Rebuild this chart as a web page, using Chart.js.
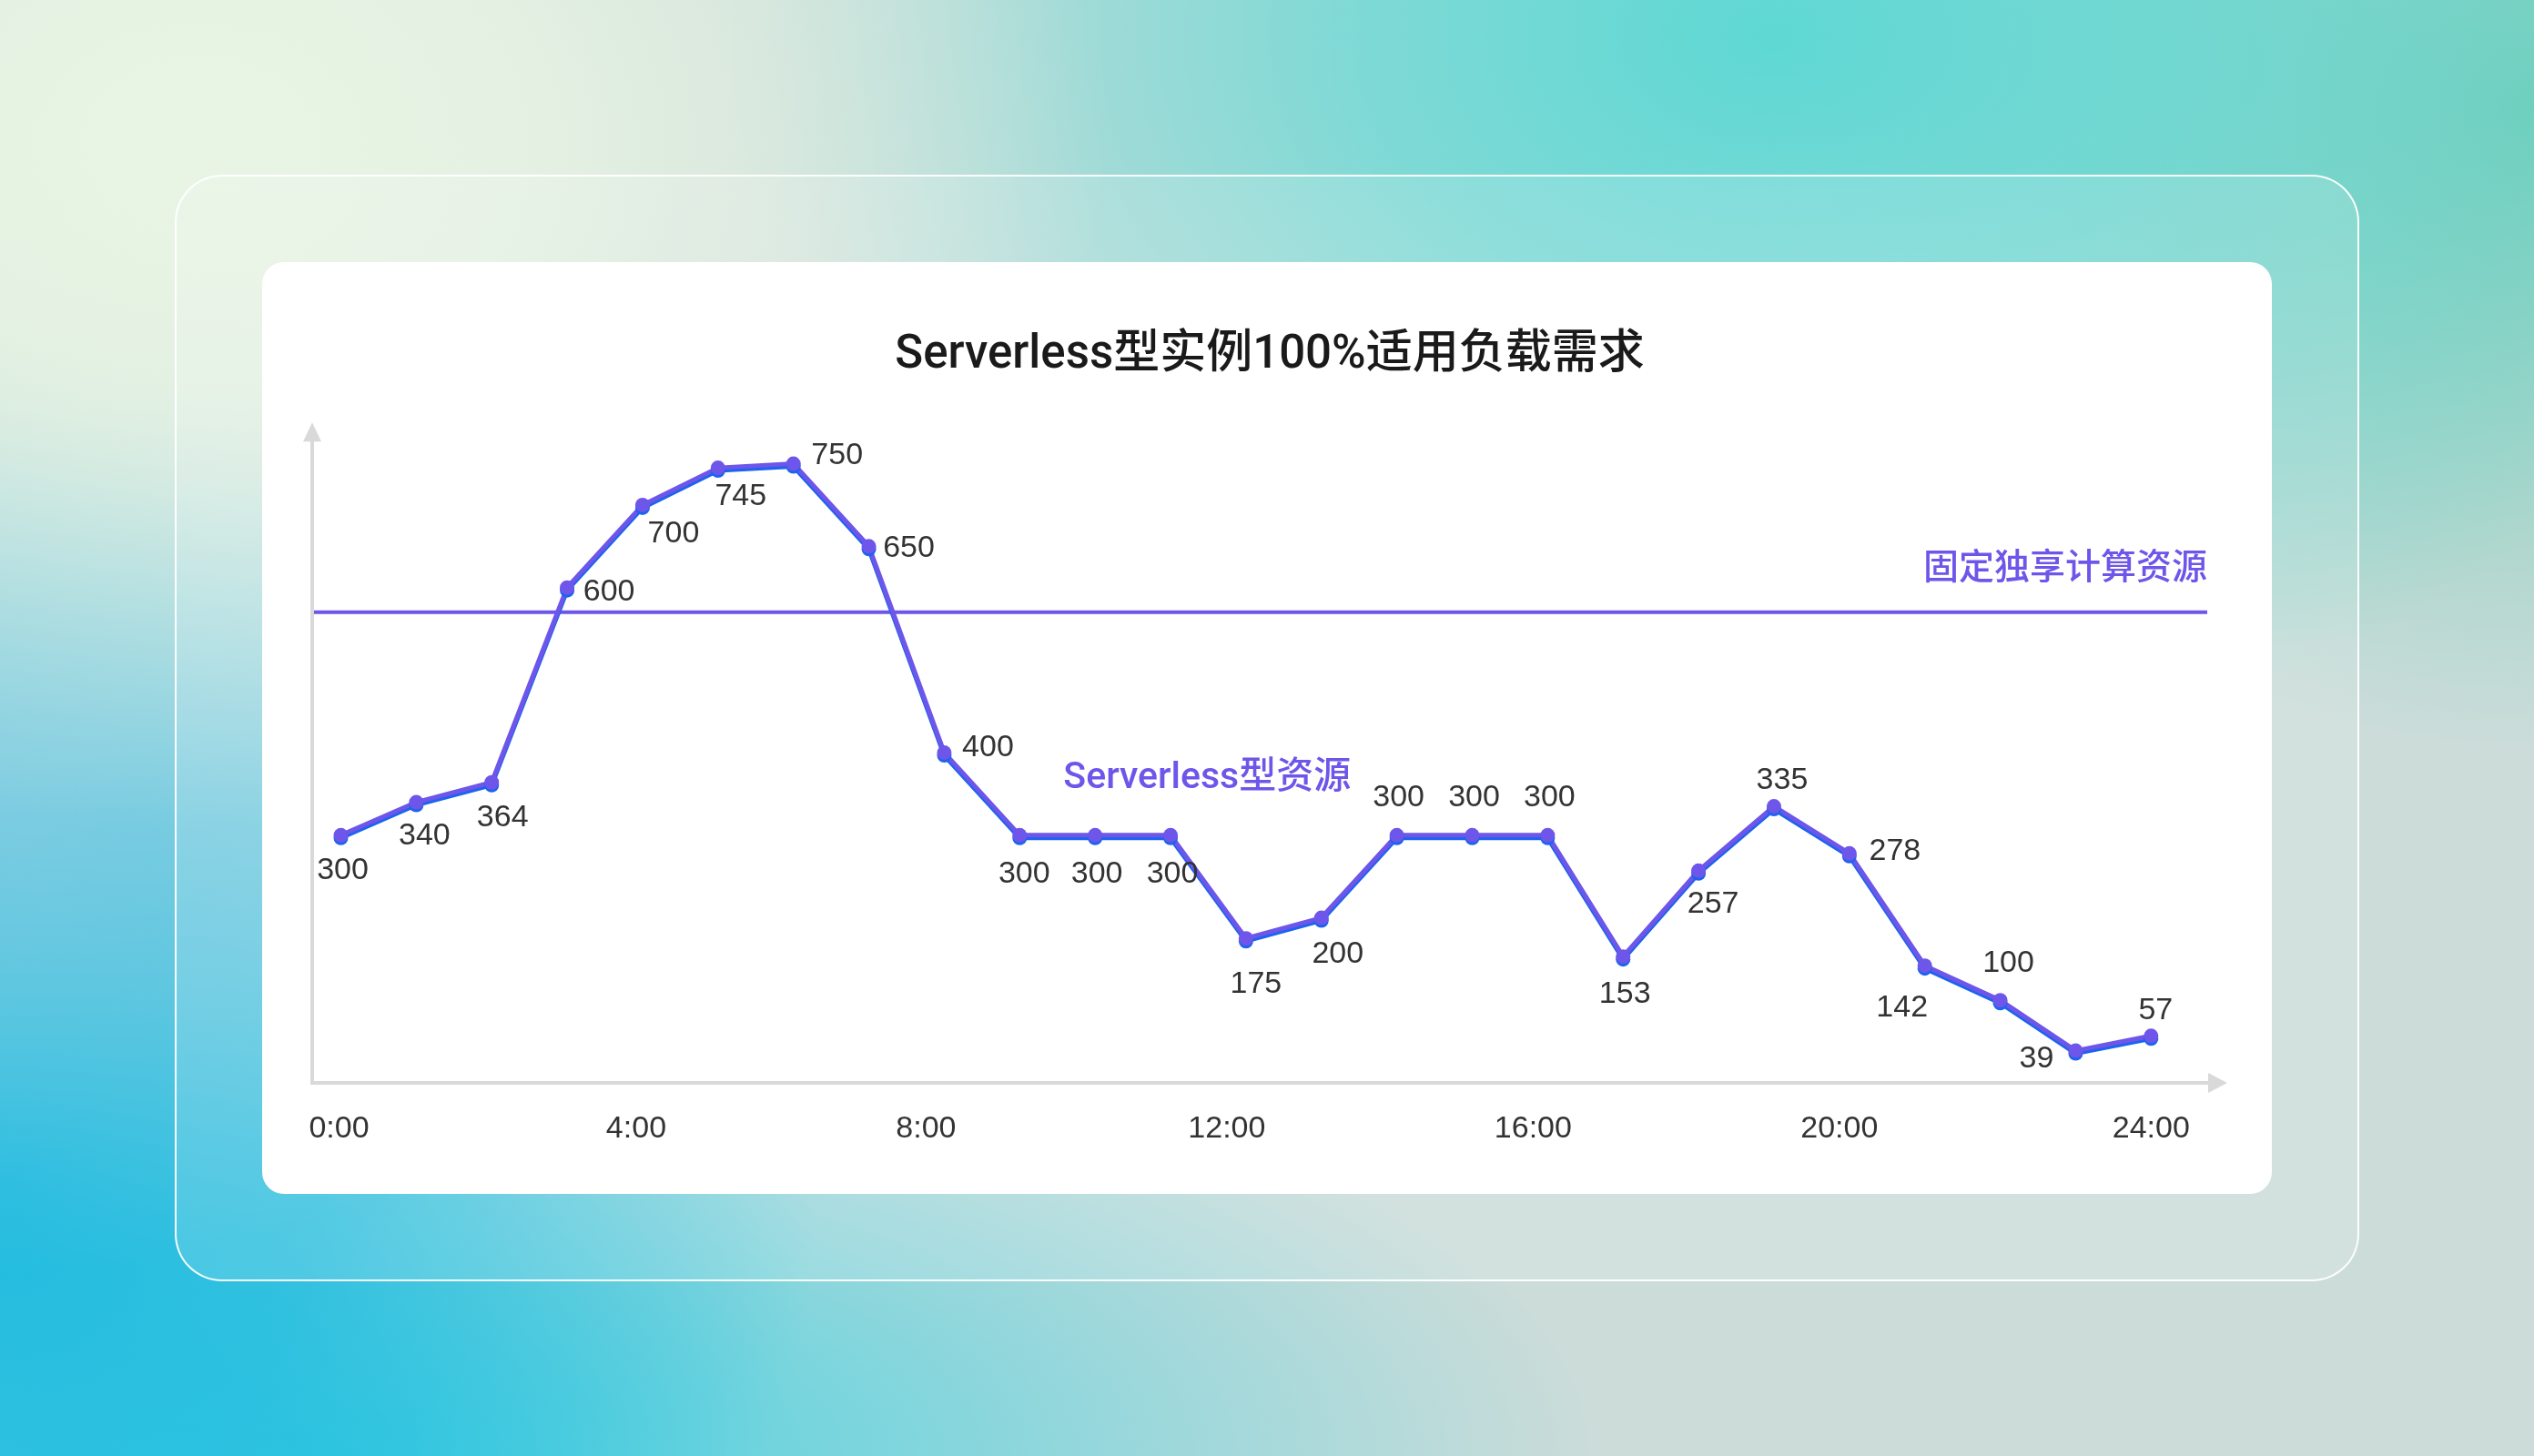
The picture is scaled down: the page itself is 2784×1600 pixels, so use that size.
<!DOCTYPE html>
<html>
<head>
<meta charset="utf-8">
<script src="https://cdn.jsdelivr.net/npm/chart.js@4.4.1/dist/chart.umd.min.js"></script>
<style>
  html, body { margin: 0; padding: 0; }
  body {
    width: 2784px; height: 1600px; overflow: hidden; position: relative;
    background:
      radial-gradient(ellipse 1000px 750px at 220px 160px, rgba(233,245,228,1) 0%, rgba(233,245,228,0.85) 35%, rgba(233,245,228,0) 100%),
      radial-gradient(ellipse 1150px 800px at 1950px 40px, rgba(94,216,212,1) 0%, rgba(94,216,212,0.7) 40%, rgba(94,216,212,0) 100%),
      radial-gradient(ellipse 800px 700px at 2784px 120px, rgba(118,204,182,1) 0%, rgba(118,204,182,0) 100%),
      radial-gradient(ellipse 800px 550px at 0px 850px, rgba(130,205,226,0.9) 0%, rgba(130,205,226,0) 100%),
      radial-gradient(ellipse 900px 850px at 0px 1300px, rgba(30,187,224,1) 0%, rgba(30,187,224,0.75) 40%, rgba(30,187,224,0) 100%),
      radial-gradient(ellipse 1400px 520px at 350px 1600px, rgba(64,208,224,1) 0%, rgba(64,208,224,0.55) 45%, rgba(64,208,224,0) 100%),
      #cbdcd9;
  }
  .frame {
    position: absolute; left: 192px; top: 192px; width: 2400px; height: 1216px;
    box-sizing: border-box; border: 2px solid rgba(255,255,255,0.95); border-radius: 52px;
    background: rgba(255,255,255,0.14);
  }
  .card {
    position: absolute; left: 288px; top: 288px; width: 2208px; height: 1024px;
    background: #fff; border-radius: 24px;
  }
  .card canvas { position: absolute; left: 0; top: 0; }
</style>
</head>
<body>
<div class="frame"></div>
<div class="card"><canvas id="myChart" width="2208" height="1024"></canvas></div>
<script>
// hourly load of the Serverless instance
const hours = [0, 1, 2, 3, 4, 5, 6, 7, 8, 9, 10, 11, 12, 13, 14, 15, 16, 17, 18, 19, 20, 21, 22, 23, 24];
const load = [300, 340, 364, 600, 700, 745, 750, 650, 400, 300, 300, 300, 175, 200, 300, 300, 300, 153, 257, 335, 278, 142, 100, 39, 57];
const fixedCapacity = 570;
const tickHours = [0, 4, 8, 12, 16, 20, 24];
const tickLabels = ['0:00', '4:00', '8:00', '12:00', '16:00', '20:00', '24:00'];
const chartTitle = 'Serverless型实例100%适用负载需求';
const fixedName = '固定独享计算资源';
const serverlessName = 'Serverless型资源';

// where each value label sits relative to its point (px)
const labelOffsets = [
  [2, 39], [9, 37], [12, 39], [46, 5], [34, 32], [25, 32], [48, -9], [44, 2], [48, -5],
  [5, 43], [2, 43], [2, 43], [11, 50], [18, 40], [2, -41], [2, -41], [2, -41],
  [2, 41], [16, 37], [9, -28], [50, -2], [-25, 46], [9, -41], [-43, 9], [5, -28]
];
// tick labels are nudged a little, as in the original artwork (px)
const tickNudge = [-2, -7, -20, -21, -16, -11, 0];

const numFont = '34px "Liberation Sans", Arial, sans-serif';
const purple = '#6d56e9';

const decor = {
  id: 'decor',
  beforeDatasetsDraw(chart) {
    const ctx = chart.ctx;
    const a = chart.chartArea;
    const x = chart.scales.x, y = chart.scales.y;
    const y0 = y.getPixelForValue(0);
    const x0 = a.left;
    ctx.save();
    // axes with arrows
    ctx.strokeStyle = '#d9d9d9';
    ctx.fillStyle = '#d9d9d9';
    ctx.lineWidth = 4;
    ctx.beginPath();
    ctx.moveTo(x0, y0 + 2); ctx.lineTo(x0, a.top + 18);
    ctx.moveTo(x0, y0); ctx.lineTo(a.right - 18, y0);
    ctx.stroke();
    ctx.beginPath();
    ctx.moveTo(x0, a.top); ctx.lineTo(x0 - 10, a.top + 21); ctx.lineTo(x0 + 10, a.top + 21);
    ctx.closePath(); ctx.fill();
    ctx.beginPath();
    ctx.moveTo(a.right, y0); ctx.lineTo(a.right - 21, y0 - 11); ctx.lineTo(a.right - 21, y0 + 11);
    ctx.closePath(); ctx.fill();

    // x tick labels
    ctx.fillStyle = '#333';
    ctx.font = numFont;
    ctx.textAlign = 'center';
    ctx.textBaseline = 'middle';
    tickHours.forEach((h, i) => {
      ctx.fillText(tickLabels[i], x.getPixelForValue(h) + tickNudge[i], y0 + 51);
    });

    // fixed dedicated capacity
    const yf = y.getPixelForValue(fixedCapacity);
    ctx.strokeStyle = purple;
    ctx.lineWidth = 4;
    ctx.beginPath();
    ctx.moveTo(x0 + 2, yf); ctx.lineTo(a.right - 22, yf);
    ctx.stroke();
    ctx.fillStyle = purple;
    ctx.font = '500 39px "Noto Sans CJK SC", sans-serif';
    ctx.textAlign = 'right';
    ctx.fillText(fixedName, a.right - 22, yf - 52);

    // serverless resource label
    ctx.textAlign = 'left';
    ctx.font = '500 41px Roboto, "Noto Sans CJK SC", sans-serif';
    ctx.fillText(serverlessName, x.getPixelForValue(9.58), y.getPixelForValue(368));
    ctx.restore();
  },
  beforeDatasetDraw(chart) {
    const ctx = chart.ctx;
    ctx.save();
    ctx.shadowColor = '#1c63ef';
    ctx.shadowOffsetX = 0;
    ctx.shadowOffsetY = 3;
    ctx.shadowBlur = 0;
  },
  afterDatasetDraw(chart) {
    chart.ctx.restore();
  },
  afterDatasetsDraw(chart) {
    const ctx = chart.ctx;
    const meta = chart.getDatasetMeta(0);
    ctx.save();
    ctx.fillStyle = '#333';
    ctx.font = numFont;
    ctx.textAlign = 'center';
    ctx.textBaseline = 'middle';
    meta.data.forEach((pt, i) => {
      const off = labelOffsets[i];
      ctx.fillText(String(load[i]), pt.x + off[0], pt.y + off[1]);
    });
    ctx.restore();
  }
};

new Chart('myChart', {
  type: 'line',
  data: {
    datasets: [{
      data: hours.map((h, i) => ({ x: h, y: load[i] })),
      borderColor: purple,
      backgroundColor: purple,
      borderWidth: 5,
      pointRadius: 8,
      pointBorderWidth: 0,
      pointBackgroundColor: purple,
      tension: 0,
      fill: false
    }]
  },
  options: {
    responsive: false,
    animation: false,
    layout: { padding: { left: 55, right: 49, top: 0, bottom: 122 } },
    plugins: {
      legend: { display: false },
      tooltip: { enabled: false },
      title: {
        display: true,
        text: chartTitle,
        color: '#1a1a1a',
        font: { size: 51, weight: '500', family: 'Roboto, "Noto Sans CJK SC", sans-serif', lineHeight: 1.2 },
        padding: { top: 73, bottom: 42 }
      }
    },
    scales: {
      x: { type: 'linear', min: -0.38, max: 25.01, display: false },
      y: { min: 0, max: 800, display: false }
    }
  },
  plugins: [decor]
});
</script>
</body>
</html>
